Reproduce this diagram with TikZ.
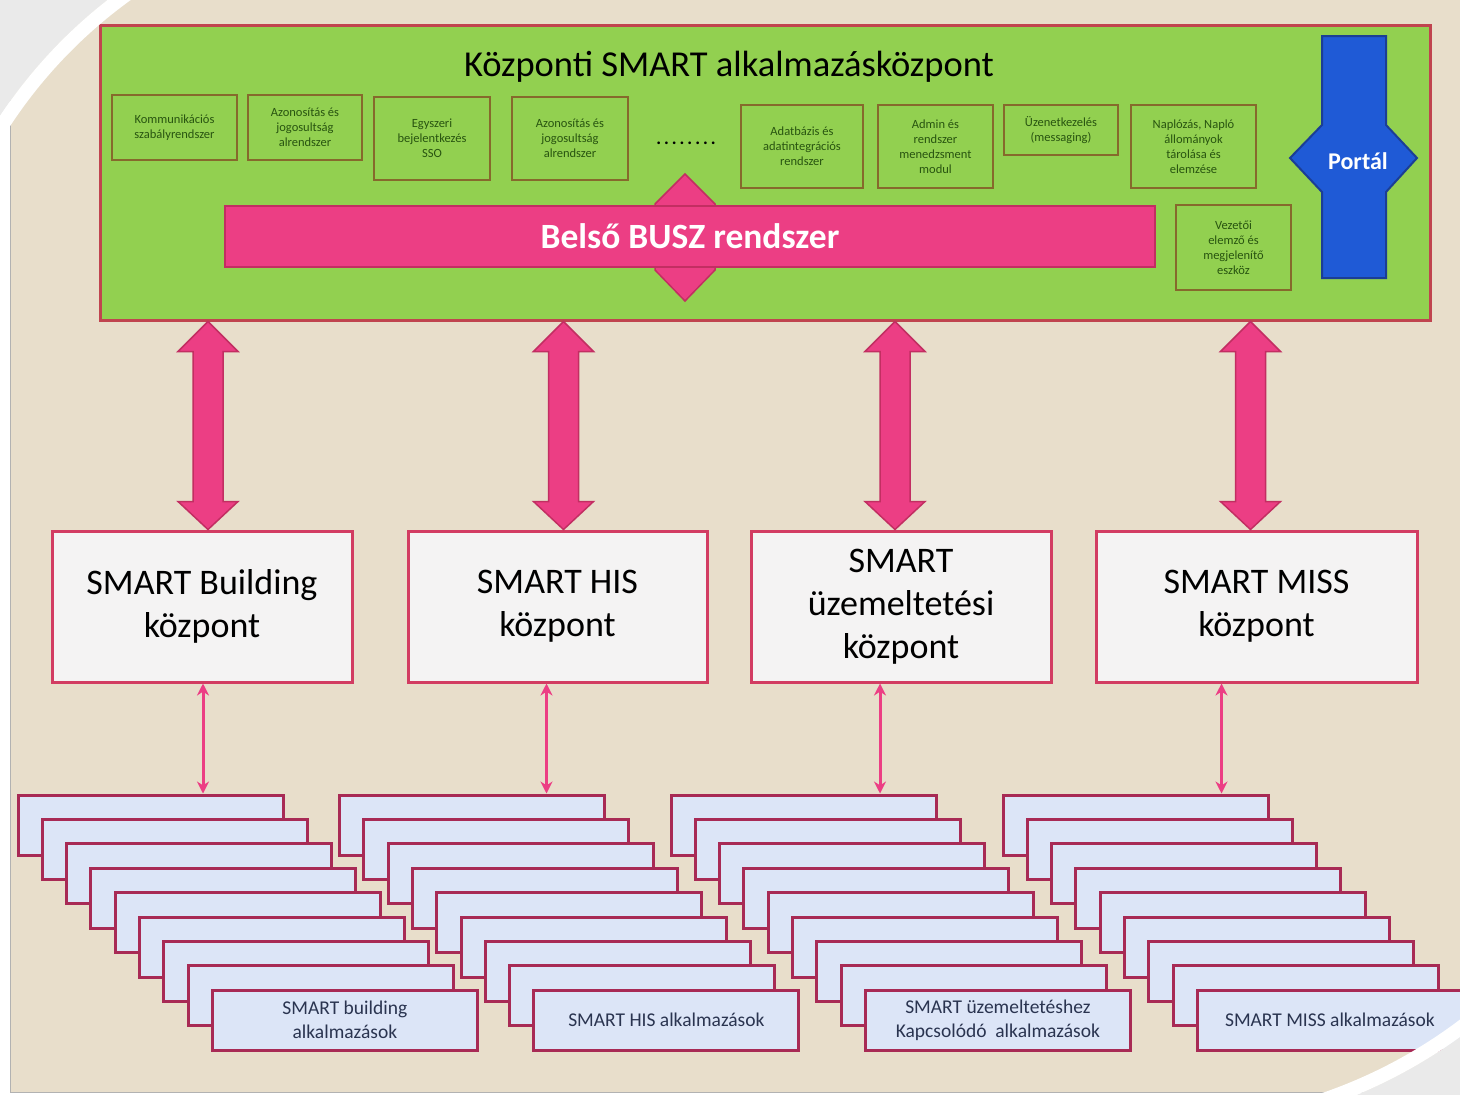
\documentclass[tikz,border=0pt]{standalone}
\usepackage{fontspec}
\setmainfont{Carlito}
\usetikzlibrary{calc,arrows.meta}
\definecolor{linen}{HTML}{E8DECB}
\definecolor{smartgreen}{HTML}{92D050}
\definecolor{greenframe}{HTML}{C0444F}
\definecolor{modframe}{HTML}{86692C}
\definecolor{modtext}{HTML}{285410}
\definecolor{buspink}{HTML}{EC3E84}
\definecolor{busframe}{HTML}{C22E62}
\definecolor{portalblue}{HTML}{1F5AD6}
\definecolor{portalframe}{HTML}{1B3E95}
\definecolor{hubframe}{HTML}{D23C62}
\definecolor{hubfill}{HTML}{F4F3F3}
\definecolor{appfill}{HTML}{DCE5F7}
\definecolor{appframe}{HTML}{A82A55}
\definecolor{apptext}{HTML}{2A3450}
\definecolor{cornergray}{HTML}{EAEAEA}

\tikzset{
  modbox/.style={draw=modframe, line width=2pt, fill=smartgreen, text=modtext, align=center,
    font=\fontsize{12.5}{15}\selectfont, inner sep=2pt},
  hubbox/.style={draw=hubframe, line width=3pt, fill=hubfill, align=center,
    minimum height=151pt, font=\fontsize{36}{43}\selectfont},
  appbox/.style={draw=appframe, line width=3pt, fill=appfill, minimum width=265pt,
    minimum height=60pt, text=apptext, align=center, font=\fontsize{19.5}{24}\selectfont},
  bigarrow/.style={draw=busframe, line width=1.5pt, fill=buspink, line join=miter},
  linkarrow/.style={draw=buspink, line width=3pt,
    {Stealth[length=12pt,width=12pt]}-{Stealth[length=12pt,width=12pt]}}
}

\begin{document}
\begin{tikzpicture}[x=1pt,y=-1pt]
\useasboundingbox (0,0) rectangle (1460,1095);
\fill[white] (0,0) rectangle (1460,1095);
\fill[linen] (10,0) rectangle (1460,1092);
\draw[gray!60, line width=1pt] (10,0) -- (10,1092) -- (1460,1092);

% central application centre
\node[draw=greenframe, line width=3pt, fill=smartgreen, minimum width=1330pt, minimum height=295pt] (green) at (765,172.5) {};
\node[font=\fontsize{36.5}{40}\selectfont] (title) at (729,67) {Központi SMART alkalmazásközpont};

\node[modbox, minimum width=125pt, minimum height=65pt] (m1) at (174.5,127.5) {Kommunikációs\\szabályrendszer};
\node[modbox, minimum width=114pt, minimum height=65pt] (m2) at (305,127.5) {Azonosítás és\\jogosultság\\alrendszer};
\node[modbox, minimum width=116pt, minimum height=83pt] (m3) at (432,138.5) {Egyszeri\\bejelentkezés\\SSO};
\node[modbox, minimum width=116pt, minimum height=83pt] (m4) at (570,138.5) {Azonosítás és\\jogosultság\\alrendszer};
\node[font=\bfseries\fontsize{18}{18}\selectfont] (dots) at (686,143) {.\,.\,.\,.\,.\,.\,.\,.};
\node[modbox, minimum width=122pt, minimum height=83pt] (m5) at (802,146.5) {Adatbázis és\\adatintegrációs\\rendszer};
\node[modbox, minimum width=115pt, minimum height=83pt] (m6) at (935.5,146.5) {Admin és\\rendszer\\menedzsment\\modul};
\node[modbox, minimum width=114pt, minimum height=50pt] (m7) at (1061,130) {Üzenetkezelés\\(messaging)};
\node[modbox, minimum width=125pt, minimum height=83pt] (m8) at (1193.5,146.5) {Naplózás, Napló\\állományok\\tárolása és\\elemzése};
\node[modbox, minimum width=115pt, minimum height=85pt] (m9) at (1233.5,247.5) {Vezetői\\elemző és\\megjelenítő\\eszköz};

% internal bus
\draw[bigarrow] (685,174) -- (715,204) -- (715,270) -- (685,301) -- (655,270) -- (655,204) -- cycle;
\node[draw=busframe, line width=2pt, fill=buspink, minimum width=930pt, minimum height=61pt,
  text=white, font=\bfseries\fontsize{35.5}{40}\selectfont] (bus) at (690,236.5) {Belső BUSZ rendszer};

% portal
\draw[fill=portalblue, draw=portalframe, line width=2pt] (1322,36) -- (1386,36) -- (1386,125) -- (1417,158)
  -- (1386,192) -- (1386,278) -- (1322,278) -- (1322,192) -- (1290,158) -- (1322,125) -- cycle;
\node[text=white, font=\bfseries\fontsize{24}{28}\selectfont] (portal) at (1358,161) {Portál};

% centres
\node[hubbox, minimum width=300pt] (b1) at (202,606.5) {SMART Building\\központ};
\node[hubbox, minimum width=299pt] (b2) at (557.5,606.5) {SMART HIS\\központ};
\node[hubbox, minimum width=300pt] (b3) at (901,606.5) {SMART\\üzemeltetési\\központ};
\node[hubbox, minimum width=321pt] (b4) at (1256.5,606.5) {SMART MISS\\központ};

\foreach \b/\dx in {b1/6,b2/6,b3/-6,b4/-6}{
  \coordinate (hi) at ($(\b.north |- green.south)+(\dx,0)$);
  \coordinate (lo) at ($(\b.north)+(\dx,0)$);
  \draw[bigarrow] (hi) -- ++(30,30) -- ++(-15,0) -- ($(lo)+(15,-28)$) -- ++(15,0) -- (lo)
    -- ++(-30,-28) -- ++(15,0) -- ($(hi)+(-15,30)$) -- ++(-15,0) -- cycle;
}

% application stacks
\foreach \s/\x/\lbl in {1/150.5/{SMART building\\alkalmazások},2/472/{SMART HIS alkalmazások},
    3/803.5/{SMART üzemeltetéshez\\Kapcsolódó\ \ alkalmazások},4/1135.5/{SMART MISS alkalmazások}}{
  \foreach \i in {0,...,7}
    \node[appbox] (s\s-\i) at (\x+\i*24.3, 825+\i*24.4) {};
  \node[appbox] (s\s-8) at (\x+194.4, 1020.2) {\lbl};
}

\foreach \b/\dx/\s in {b1/1/1,b2/-11/2,b3/-21/3,b4/-35/4}{
  \coordinate (t) at ($(\b.south)+(\dx,0)$);
  \draw[linkarrow] (t) -- (t |- s\s-0.north);
}

% corners
\begin{scope}
  \clip (0,0) rectangle (200,200);
  \fill[cornergray, even odd rule] (-20,-20) rectangle (400,400) (410,388) circle (492);
  \draw[white, line width=14pt] (410,388) circle (485);
\end{scope}
\begin{scope}
  \clip (1250,880) rectangle (1460,1095);
  \fill[cornergray, even odd rule] (900,600) rectangle (1480,1115) (1160,622) circle (512);
  \draw[white, line width=14pt] (1160,622) circle (505);
\end{scope}
\end{tikzpicture}
\end{document}
